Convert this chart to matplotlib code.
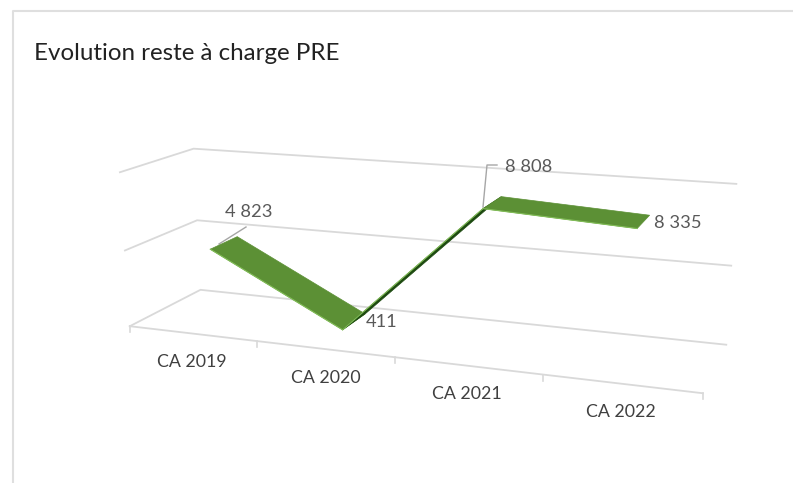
import numpy as np
import matplotlib
matplotlib.use('Agg')
import matplotlib.pyplot as plt

categories = ['CA 2019', 'CA 2020', 'CA 2021', 'CA 2022']
values = [4823, 411, 8808, 8335]
value_labels = ['4 823', '411', '8 808', '8 335']
gridlines = [0, 5000, 10000]

W, H = 793, 483
GRID = '#d9d9d9'
TEXT = '#595959'

# the chart is a 3D perspective, so fit a camera matrix on the axes corners
# (category pos, value, depth) -> pixel
calib = [
    (0, 0, 0, 130, 326), (1, 0, 0, 257, 342), (2, 0, 0, 395, 357),
    (3, 0, 0, 542, 375), (4, 0, 0, 703, 393),
    (0, 0, 1, 200, 290), (4, 0, 1, 726, 344),
    (0, 5000, 0, 125, 250), (0, 5000, 1, 198, 220), (4, 5000, 1, 732, 266),
    (0, 10000, 0, 120, 172), (0, 10000, 1, 193, 149), (4, 10000, 1, 736, 184),
]
A, b = [], []
for u, v, w, px, py in calib:
    v = v / 10000
    A.append([u, v, w, 1, 0, 0, 0, 0, -px * u, -px * v, -px * w])
    b.append(px)
    A.append([0, 0, 0, 0, u, v, w, 1, -py * u, -py * v, -py * w])
    b.append(py)
m = np.linalg.lstsq(np.array(A, float), np.array(b, float), rcond=None)[0]
P = np.append(m, 1.0).reshape(3, 4)


def project(u, v, w):
    q = P @ np.array([u, v / 10000, w, 1.0])
    return q[0] / q[2], q[1] / q[2]


plt.rcParams['font.family'] = ['Lato', 'DejaVu Sans']
fig = plt.figure(figsize=(W / 100, H / 100), dpi=100)
ax = fig.add_axes([0, 0, 1, 1])
ax.set_xlim(0, W)
ax.set_ylim(H, 0)
ax.axis('off')

# frame of the chart area, only top and left are in the crop
ax.plot([13, 13, 793], [483, 11, 11], color='#dfdfdf', lw=1.5)

# gridlines: side wall then back wall
for g in gridlines:
    p = [project(0, g, 0), project(0, g, 1), project(4, g, 1)]
    ax.plot(*zip(*p), color=GRID, lw=1.3, solid_joinstyle='miter')

# category axis + ticks
p = [project(0, 0, 0), project(4, 0, 0)]
ax.plot(*zip(*p), color=GRID, lw=1.3)
for i in range(5):
    x, y = project(i, 0, 0)
    ax.plot([x, x], [y, y + 6], color=GRID, lw=1.2)

# ribbon
D0, D1 = 0.3, 0.7
seg_colors = ['#5c9035', '#1d4a10', '#5c9035']
for i in range(3):
    a, c = i + 0.5, i + 1.5
    poly = [project(a, values[i], D0), project(c, values[i + 1], D0),
            project(c, values[i + 1], D1), project(a, values[i], D1)]
    ax.fill(*zip(*poly), color=seg_colors[i], lw=0.5, zorder=3)
    ax.plot(*zip(*poly[:2]), color='#82bd58', lw=0.8, zorder=4)

# leader lines
ax.plot([219, 246], [244, 227], color='#a6a6a6', lw=1, zorder=2)
ax.plot([483, 487, 497], [207, 165, 165], color='#a6a6a6', lw=1, zorder=2)

label_pos = [(249, 212), (382, 322), (529, 167), (678, 223)]
for txt, (x, y) in zip(value_labels, label_pos):
    ax.text(x, y, txt, ha='center', va='center', fontsize=13.2, color=TEXT)

cat_pos = [(192, 362), (326, 378), (467, 394), (621, 412)]
for txt, (x, y) in zip(categories, cat_pos):
    ax.text(x, y, txt, ha='center', va='center', fontsize=12.8, color='#404040')

ax.text(34, 53, 'Evolution reste à charge PRE', ha='left', va='center',
        fontsize=17.4, color='#222222')

fig.savefig('out.png', dpi=100)
